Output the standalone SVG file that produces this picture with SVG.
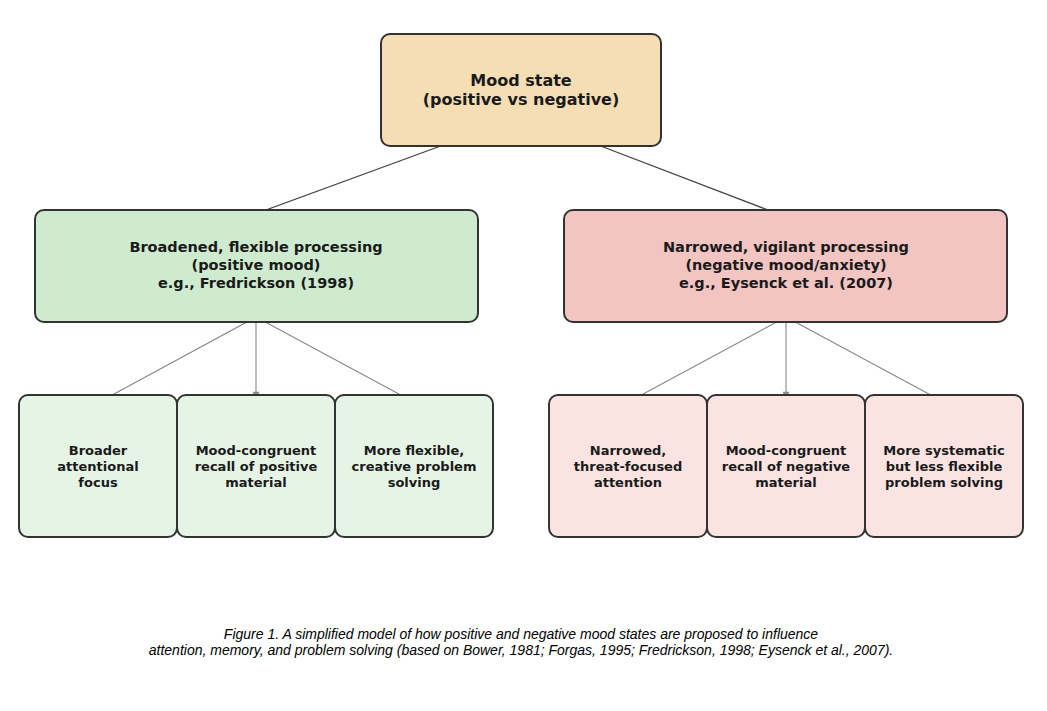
<svg xmlns="http://www.w3.org/2000/svg" width="1047" height="711" viewBox="0 0 1047 711">
<defs>
<marker id="ad" viewBox="0 0 10 10" refX="9" refY="5" markerWidth="10" markerHeight="8" markerUnits="userSpaceOnUse" orient="auto"><path d="M0,0 L10,5 L0,10 z" fill="#555"/></marker>
<marker id="al" viewBox="0 0 10 10" refX="9" refY="5" markerWidth="8" markerHeight="7" markerUnits="userSpaceOnUse" orient="auto"><path d="M0,0 L10,5 L0,10 z" fill="#888"/></marker>
<style>
.n rect{stroke:#333;stroke-width:2}
.n text{font-family:"DejaVu Sans",sans-serif;font-weight:bold;fill:#1a1a1a;text-anchor:middle}
.t text{font-size:16px}.m text{font-size:14.5px}.b text{font-size:13px}
.g rect{fill:#e6f4e6}.p rect{fill:#fbe3e2}
.cd{stroke:#444;stroke-width:1.2;fill:none;marker-end:url(#ad)}
.cl{stroke:#888;stroke-width:1.1;fill:none;marker-end:url(#al)}
.cap{font-family:"Liberation Sans",sans-serif;font-style:italic;font-size:14px;fill:#000;text-anchor:middle}
</style>
</defs>
<rect width="1047" height="711" fill="#fff"/>
<g id="connectors">
<line class="cd" x1="457" y1="140" x2="252" y2="215"/>
<line class="cd" x1="585" y1="140" x2="781" y2="215"/>
<line class="cl" x1="256" y1="317" x2="103" y2="400"/>
<line class="cl" x1="256" y1="317" x2="256" y2="398"/>
<line class="cl" x1="256" y1="317" x2="410" y2="400"/>
<line class="cl" x1="786" y1="317" x2="632" y2="400"/>
<line class="cl" x1="786" y1="317" x2="786" y2="398"/>
<line class="cl" x1="786" y1="317" x2="940" y2="400"/>
</g>
<g id="mood" class="n t"><rect x="381" y="34" width="280" height="112" rx="9" fill="#f5deb3"/><text x="521" y="86">Mood state</text><text x="521" y="105">(positive vs negative)</text></g>
<g id="broad" class="n m"><rect x="35" y="210" width="443" height="112" rx="9" fill="#cfebcf"/><text x="256" y="252">Broadened, flexible processing</text><text x="256" y="270">(positive mood)</text><text x="256" y="288">e.g., Fredrickson (1998)</text></g>
<g id="narrow" class="n m"><rect x="564" y="210" width="443" height="112" rx="9" fill="#f2c4c2"/><text x="786" y="252">Narrowed, vigilant processing</text><text x="786" y="270">(negative mood/anxiety)</text><text x="786" y="288">e.g., Eysenck et al. (2007)</text></g>
<g id="b1" class="n b g"><rect x="19" y="395" width="158" height="142" rx="9"/><text x="98" y="455">Broader</text><text x="98" y="471">attentional</text><text x="98" y="487">focus</text></g>
<g id="b2" class="n b g"><rect x="177" y="395" width="158" height="142" rx="9"/><text x="256" y="455">Mood-congruent</text><text x="256" y="471">recall of positive</text><text x="256" y="487">material</text></g>
<g id="b3" class="n b g"><rect x="335" y="395" width="158" height="142" rx="9"/><text x="414" y="455">More flexible,</text><text x="414" y="471">creative problem</text><text x="414" y="487">solving</text></g>
<g id="b4" class="n b p"><rect x="549" y="395" width="158" height="142" rx="9"/><text x="628" y="455">Narrowed,</text><text x="628" y="471">threat-focused</text><text x="628" y="487">attention</text></g>
<g id="b5" class="n b p"><rect x="707" y="395" width="158" height="142" rx="9"/><text x="786" y="455">Mood-congruent</text><text x="786" y="471">recall of negative</text><text x="786" y="487">material</text></g>
<g id="b6" class="n b p"><rect x="865" y="395" width="158" height="142" rx="9"/><text x="944" y="455">More systematic</text><text x="944" y="471">but less flexible</text><text x="944" y="487">problem solving</text></g>
<text class="cap" x="521" y="639">Figure 1. A simplified model of how positive and negative mood states are proposed to influence</text>
<text class="cap" x="521" y="655">attention, memory, and problem solving (based on Bower, 1981; Forgas, 1995; Fredrickson, 1998; Eysenck et al., 2007).</text>
</svg>
